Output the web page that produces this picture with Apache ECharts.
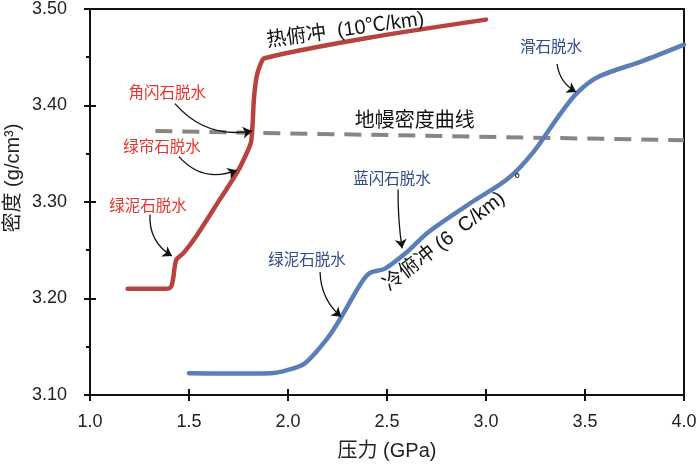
<!DOCTYPE html>
<html><head><meta charset="utf-8">
<script src="https://cdn.jsdelivr.net/npm/echarts@6/dist/echarts.min.js"></script>
<style>html,body{margin:0;padding:0;background:#fff}#c{width:700px;height:466px}</style>
</head><body><div id="c"></div>
<script>
// ---- data ----
const xMin = 1.0, xMax = 4.0, xStep = 0.5;
const yMin = 3.1, yMax = 3.5, yStep = 0.1;

// hot subduction (10 °C/km): [pressure GPa, density g/cm3]
const hotPath = [
  [1.19,3.210],[1.30,3.210],[1.38,3.210],[1.404,3.211],[1.413,3.214],[1.421,3.222],
  [1.428,3.233],[1.438,3.241],[1.472,3.247],[1.54,3.2656],[1.66,3.304],[1.744,3.331],
  [1.790,3.350],[1.813,3.362],[1.821,3.380],[1.828,3.407],[1.840,3.428],[1.856,3.440],
  [1.881,3.449],[2.40,3.470],[3.00,3.489]
];
// cold subduction (6 °C/km)
const coldPath = [
  [1.50,3.1225],[1.70,3.1222],[1.91,3.1225],[2.00,3.126],[2.086,3.133],[2.20,3.159],
  [2.27,3.181],[2.36,3.213],[2.41,3.226],[2.49,3.231],[2.60,3.248],[2.71,3.269],
  [2.93,3.300],[3.11,3.324],[3.24,3.352],[3.36,3.387],[3.46,3.413],[3.57,3.430],
  [3.79,3.446],[4.00,3.463]
];
// mantle density curve
const mantlePath = [[1.33,3.3735],[4.00,3.364]];

// annotation labels: [x, y, text]
const redLabels = [[1.39,3.412,'角闪石脱水'],[1.364,3.356,'绿帘石脱水'],[1.293,3.295,'绿泥石脱水']];
const blueLabels = [[2.525,3.323,'蓝闪石脱水'],[2.096,3.239,'绿泥石脱水'],[3.328,3.460,'滑石脱水']];
// [x, y, text, rotation deg]
const blackLabels = [[2.64,3.383,'地幔密度曲线',0],[2.29,3.478,'热俯冲  (10℃/km)',8],[2.79,3.259,'冷俯冲 (6  C/km)',38]];
const degreeMark = [3.157,3.322,'°'];

// arrows: [x1,y1,x2,y2,curveness]
const arrows = [
  [1.429,3.402,1.818,3.3735,-0.28],
  [1.449,3.347,1.742,3.333,-0.35],
  [1.303,3.287,1.414,3.244,-0.3],
  [2.162,3.2275,2.268,3.181,-0.22],
  [2.556,3.313,2.576,3.252,-0.04],
  [3.359,3.443,3.455,3.414,-0.25]
];

const xTickLabels = ['1.0','1.5','2.0','2.5','3.0','3.5','4.0'];
const yTickLabels = ['3.10','3.20','3.30','3.40','3.50'];
const xTitle = '压力 (GPa)';
const yTitle = '密度 (g/cm³)';

// ---- chart ----
const FONT = 'Liberation Sans, Noto Sans CJK SC, sans-serif';
const chart = echarts.init(document.getElementById('c'));
const tickStyle = {color:'#111',width:2};
chart.setOption({
  animation:false,
  grid:{left:90,right:16,top:8,bottom:69,show:true,borderColor:'#111',borderWidth:2,backgroundColor:'transparent'},
  xAxis:[{type:'value',min:xMin,max:xMax,interval:xStep,position:'bottom',
    name:xTitle,nameLocation:'middle',nameGap:46,
    nameTextStyle:{fontSize:20,color:'#222',fontFamily:FONT},
    axisLine:{lineStyle:{color:'#111',width:2}},
    axisTick:{length:6,lineStyle:tickStyle},
    axisLabel:{fontSize:18,color:'#222',margin:18,fontFamily:FONT,
      formatter:v=>xTickLabels[Math.round((v-xMin)/xStep)]},
    splitLine:{show:false}},
   {type:'value',min:xMin,max:xMax,interval:xStep,position:'bottom',offset:0,
    axisLine:{show:false},axisTick:{inside:true,length:6,lineStyle:tickStyle},
    axisLabel:{show:false},splitLine:{show:false}}],
  yAxis:[{type:'value',min:yMin,max:yMax,interval:yStep,position:'left',
    axisLine:{lineStyle:{color:'#111',width:2}},
    axisTick:{length:6,lineStyle:tickStyle},
    minorTick:{show:true,splitNumber:2,length:4,lineStyle:tickStyle},
    axisLabel:{fontSize:18,color:'#222',margin:23,fontFamily:FONT,padding:[3,0,0,0],
      formatter:v=>yTickLabels[Math.round((v-yMin)/yStep)]},
    splitLine:{show:false}},
   {type:'value',min:yMin,max:yMax,interval:yStep,position:'left',offset:0,
    axisLine:{show:false},axisTick:{inside:true,length:6,lineStyle:tickStyle},
    axisLabel:{show:false},splitLine:{show:false}}],
  series:[
    {type:'line',data:mantlePath,symbol:'none',z:2,
      lineStyle:{color:'#8a8580',width:4,type:[17,10]}},
    {type:'line',data:hotPath,symbol:'none',smooth:0.25,z:3,
      lineStyle:{color:'#b8433e',width:4.5,cap:'round',join:'round'}},
    {type:'line',data:coldPath,symbol:'none',smooth:0.3,z:3,
      lineStyle:{color:'#5a7fb8',width:4.5,cap:'round',join:'round'}},
    {type:'lines',coordinateSystem:'cartesian2d',z:5,
      symbol:['none','arrow'],symbolSize:[0,9],
      lineStyle:{color:'#111',width:1.3,opacity:1},
      data:arrows.map(a=>({coords:[[a[0],a[1]],[a[2],a[3]]],lineStyle:{curveness:a[4]}}))}
  ]
});

function px(x,y){return chart.convertToPixel({gridIndex:0},[x,y]);}
const g = [];
function addText(d,color,size,rot){
  const p = px(d[0],d[1]);
  g.push({type:'text',x:p[0],y:p[1],rotation:(rot||0)*Math.PI/180,z:10,
    style:{text:d[2],fill:color,fontSize:size,fontFamily:FONT,align:'center',verticalAlign:'middle'}});
}
redLabels.forEach(d=>addText(d,'#e8322b',15.5,0));
blueLabels.forEach(d=>addText(d,'#2d4a92',15.5,0));
blackLabels.forEach(d=>addText(d,'#111',20,d[3]));
addText(degreeMark,'#111',16,0);
// y axis title (placed left of the axis, slightly above centre as in the reference)
g.push({type:'text',x:13,y:178,rotation:Math.PI/2,z:10,
  style:{text:yTitle,fill:'#222',fontSize:20,fontFamily:FONT,align:'center',verticalAlign:'middle'}});
chart.setOption({graphic:g});
</script>
</body></html>
